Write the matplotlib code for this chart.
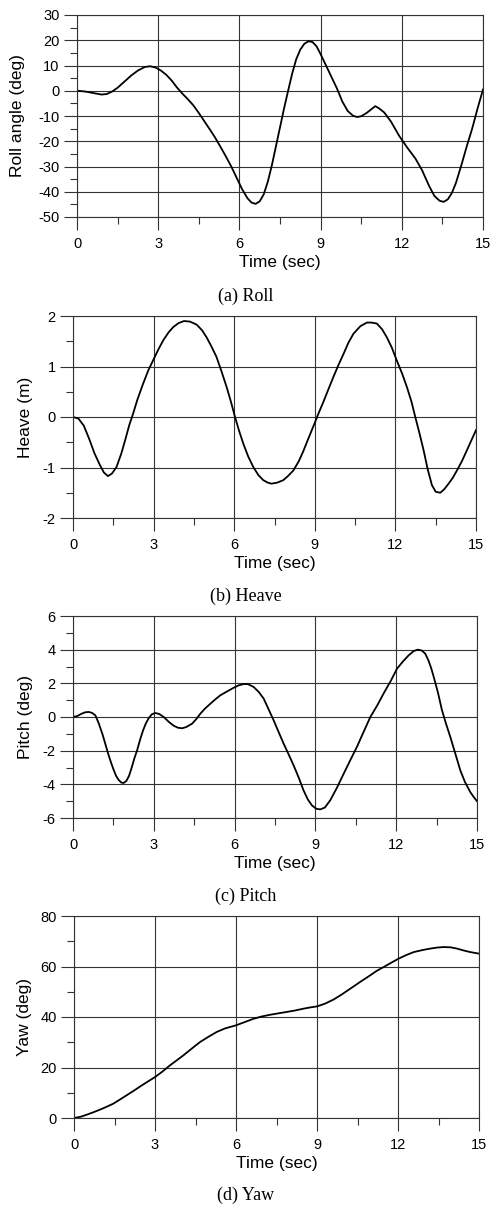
import numpy as np
import matplotlib.pyplot as plt
from matplotlib.ticker import MultipleLocator

plt.rcParams['font.family'] = 'Liberation Sans'
plt.rcParams['axes.unicode_minus'] = False

# ---------------- data ----------------
roll_t = [0, 0.3, 0.6, 0.9, 1.1, 1.3, 1.5, 1.75, 2.0, 2.25, 2.5, 2.7, 2.9, 3.1, 3.3,
          3.5, 3.7, 3.9, 4.1, 4.3, 4.5, 4.7, 4.9, 5.1, 5.3, 5.5, 5.7, 5.9, 6.1, 6.3,
          6.45, 6.6, 6.75, 6.9, 7.05, 7.2, 7.35, 7.5, 7.65, 7.8, 7.95, 8.1, 8.25,
          8.4, 8.55, 8.7, 8.85, 9.0, 9.2, 9.4, 9.6, 9.8, 10.0, 10.2, 10.35, 10.5,
          10.7, 10.9, 11.02, 11.15, 11.35, 11.6, 11.9, 12.2, 12.5, 12.75, 13.0, 13.2,
          13.4, 13.55, 13.7, 13.85, 14.0, 14.2, 14.4, 14.6, 14.8, 15.0]
roll_v = [0, -0.3, -0.9, -1.5, -1.3, -0.3, 1.2, 3.6, 6.0, 8.0, 9.4, 9.7, 9.2, 8.0, 6.3,
          4.0, 1.2, -1.2, -3.4, -5.8, -8.8, -12.0, -15.2, -18.5, -22.2, -26.0, -30.0, -34.5, -39.0, -42.6,
          -44.3, -44.8, -43.8, -41.0, -36.0, -29.5, -22.0, -14.5, -7.0, 0.0, 6.8, 12.5, 16.3,
          18.6, 19.6, 19.3, 17.6, 14.5, 10.0, 5.5, 1.0, -4.2, -8.0, -9.9, -10.4, -10.1,
          -8.8, -7.1, -6.1, -6.9, -8.6, -12.2, -17.8, -22.5, -26.8, -31.5, -37.5, -41.6,
          -43.6, -44.0, -43.0, -40.5, -36.5, -29.5, -22.0, -15.0, -7.0, 0.5]

heave_t = [0, 0.2, 0.4, 0.6, 0.8, 1.0, 1.15, 1.3, 1.45, 1.62, 1.8, 1.93, 2.1, 2.24, 2.4,
           2.61, 2.8, 2.98, 3.17, 3.36, 3.55, 3.73, 3.93, 4.13, 4.35, 4.6, 4.8, 4.97,
           5.15, 5.34, 5.53, 5.72, 5.88, 6.03, 6.18, 6.34, 6.52, 6.71, 6.9, 7.08, 7.25,
           7.39, 7.6, 7.83, 8.0, 8.2, 8.4, 8.57, 8.75, 8.95, 9.13, 9.32, 9.5, 9.69,
           9.88, 10.07, 10.25, 10.44, 10.7, 10.94, 11.12, 11.31, 11.5, 11.68, 11.87,
           12.05, 12.25, 12.43, 12.6, 12.74, 12.9, 13.05, 13.2, 13.36, 13.5, 13.67,
           13.82, 13.98, 14.14, 14.29, 14.48, 14.66, 14.83, 15.0]
heave_v = [0, -0.03, -0.17, -0.43, -0.72, -0.95, -1.1, -1.17, -1.12, -0.99, -0.72, -0.48, -0.15, 0.07, 0.35,
           0.66, 0.92, 1.12, 1.33, 1.52, 1.67, 1.78, 1.86, 1.9, 1.89, 1.83, 1.72, 1.58,
           1.4, 1.19, 0.9, 0.59, 0.3, 0.0, -0.27, -0.53, -0.78, -0.99, -1.15, -1.25, -1.3,
           -1.32, -1.3, -1.25, -1.17, -1.06, -0.88, -0.68, -0.44, -0.18, 0.06, 0.3, 0.54, 0.79,
           1.03, 1.25, 1.47, 1.65, 1.8, 1.87, 1.87, 1.85, 1.74, 1.58, 1.37,
           1.12, 0.86, 0.59, 0.3, 0.0, -0.33, -0.66, -1.03, -1.35, -1.48, -1.5,
           -1.43, -1.32, -1.2, -1.06, -0.87, -0.66, -0.46, -0.26]

pitch_t = [0, 0.15, 0.3, 0.45, 0.58, 0.7, 0.83, 0.95, 1.1, 1.2, 1.3, 1.4, 1.5, 1.6, 1.7,
           1.8, 1.88, 1.98, 2.08, 2.18, 2.28, 2.38, 2.5, 2.6, 2.7, 2.8, 2.92, 3.05, 3.2,
           3.37, 3.55, 3.74, 3.9, 4.05, 4.2, 4.42, 4.58, 4.73, 4.9, 5.1, 5.3, 5.47, 5.7,
           5.97, 6.15, 6.34, 6.5, 6.71, 6.9, 7.08, 7.25, 7.45, 7.65, 7.82, 8.0, 8.19,
           8.38, 8.56, 8.72, 8.87, 9.03, 9.18, 9.35, 9.55, 9.8, 10.05, 10.3, 10.54, 10.8,
           11.04, 11.3, 11.53, 11.8, 12.03, 12.25, 12.46, 12.65, 12.8, 12.95, 13.08, 13.2,
           13.3, 13.39, 13.55, 13.7, 13.85, 14.01, 14.2, 14.38, 14.55, 14.75, 14.9, 15.0]
pitch_v = [0, 0.05, 0.18, 0.28, 0.3, 0.25, 0.1, -0.35, -1.05, -1.6, -2.15, -2.65, -3.1, -3.5, -3.75,
           -3.9, -3.92, -3.8, -3.5, -3.0, -2.45, -1.98, -1.3, -0.8, -0.4, -0.1, 0.15, 0.24, 0.18,
           0.0, -0.28, -0.52, -0.64, -0.67, -0.6, -0.4, -0.12, 0.2, 0.5, 0.79, 1.07, 1.29, 1.5,
           1.74, 1.88, 1.96, 1.95, 1.78, 1.48, 1.09, 0.5, -0.2, -0.95, -1.58, -2.2, -2.87,
           -3.6, -4.36, -4.9, -5.25, -5.45, -5.49, -5.38, -4.95, -4.2, -3.37, -2.55, -1.78, -0.85,
           0.0, 0.7, 1.39, 2.15, 2.87, 3.3, 3.66, 3.92, 4.0, 3.95, 3.76, 3.35,
           2.9, 2.4, 1.45, 0.4, -0.4, -1.19, -2.2, -3.17, -3.85, -4.46, -4.8, -5.0]

yaw_t = [0, 0.25, 0.47, 0.7, 0.96, 1.2, 1.46, 1.7, 1.95, 2.2, 2.45, 2.7, 3.0, 3.3, 3.56,
         3.8, 4.05, 4.35, 4.67, 5.0, 5.29, 5.6, 6.0, 6.3, 6.65, 6.95, 7.27, 7.6, 7.88,
         8.2, 8.5, 8.75, 9.0, 9.3, 9.61, 9.9, 10.23, 10.6, 10.97, 11.2, 11.47, 11.75,
         12.02, 12.3, 12.58, 12.9, 13.2, 13.45, 13.69, 13.95, 14.18, 14.45, 14.68, 15.0]
yaw_v = [0, 0.5, 1.3, 2.2, 3.3, 4.4, 5.7, 7.3, 9.0, 10.7, 12.5, 14.2, 16.2, 18.6, 20.9,
         22.8, 24.8, 27.4, 30.1, 32.3, 34.1, 35.5, 36.7, 37.9, 39.3, 40.2, 40.9, 41.5, 42.0,
         42.6, 43.3, 43.8, 44.2, 45.3, 46.9, 48.8, 51.2, 53.9, 56.5, 58.2, 59.8, 61.5,
         63.1, 64.5, 65.7, 66.5, 67.1, 67.5, 67.7, 67.6, 67.1, 66.3, 65.7, 65.1]

panels = [
    (roll_t, roll_v, 'Roll angle (deg)', (-50, 30), 10, '(a) Roll'),
    (heave_t, heave_v, 'Heave (m)', (-2, 2), 1, '(b) Heave'),
    (pitch_t, pitch_v, 'Pitch (deg)', (-6, 6), 2, '(c) Pitch'),
    (yaw_t, yaw_v, 'Yaw (deg)', (0, 80), 20, '(d) Yaw'),
]

# axes boxes in pixels: left, top, right, bottom
boxes = [(77, 15, 483, 217), (73, 316, 476, 518), (73, 616, 477, 818), (74, 916, 479, 1118)]
ylab_x = [-0.128, -0.099, -0.099, -0.104]
cap_y = [296, 596, 896, 1195]

W, H = 490, 1207
fig = plt.figure(figsize=(W / 100, H / 100), dpi=100)

for (t, v, ylab, ylim, step, cap), (l, tp, r, b), yx, cy in zip(panels, boxes, ylab_x, cap_y):
    ax = fig.add_axes([l / W, 1 - b / H, (r - l) / W, (b - tp) / H])
    ax.plot(t, v, color='black', lw=1.3)
    ax.set_xlim(0, 15)
    ax.set_ylim(*ylim)
    ax.xaxis.set_major_locator(MultipleLocator(3))
    ax.xaxis.set_minor_locator(MultipleLocator(1.5))
    ax.yaxis.set_major_locator(MultipleLocator(step))
    ax.yaxis.set_minor_locator(MultipleLocator(step / 2))
    ax.grid(which='major', color='#333333', lw=0.8)
    ax.tick_params(which='major', direction='out', length=9.5, width=0.8,
                   color='#333333', labelsize=10.5, pad=3)
    ax.tick_params(which='minor', direction='out', length=5, width=0.8, color='#333333')
    ax.tick_params(axis='x', which='major', pad=5)
    for s in ax.spines.values():
        s.set_color('#333333')
        s.set_linewidth(0.8)
    ax.set_xlabel('Time (sec)', fontsize=12.5)
    ax.set_ylabel(ylab, fontsize=12.5)
    ax.xaxis.set_label_coords(0.5, -0.19)
    ax.yaxis.set_label_coords(yx, 0.5)
    fig.text(246 / W, 1 - cy / H, cap, ha='center', va='center',
             fontsize=13, family='Liberation Serif')

plt.savefig('out.png', dpi=100)
